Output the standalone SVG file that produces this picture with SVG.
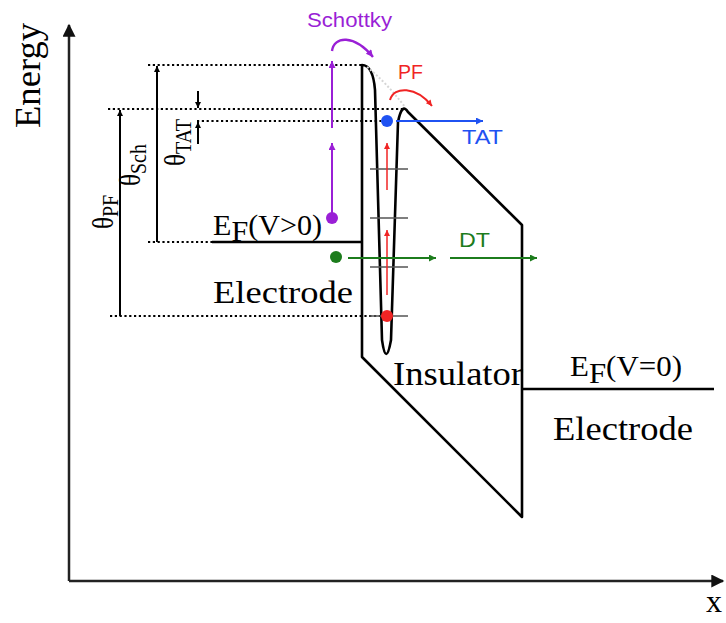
<svg xmlns="http://www.w3.org/2000/svg" width="726" height="623" viewBox="0 0 726 623">
<style>
.band{fill:none;stroke:#000;stroke-width:2.6;stroke-linejoin:round}
.axis{fill:none;stroke:#222;stroke-width:2.5}
.dot{fill:none;stroke:#000;stroke-width:2;stroke-dasharray:2.2 2.6}
.dim{fill:none;stroke:#000;stroke-width:2}
.trap{fill:none;stroke:#555;stroke-width:1.4}
.serif{font-family:"Liberation Serif","Times New Roman",serif;fill:#000}
.sans{font-family:"Liberation Sans",Arial,sans-serif}
</style>
<defs>
<marker id="axh" viewBox="0 0 10 10" refX="9" refY="5" markerUnits="userSpaceOnUse" markerWidth="16" markerHeight="13" orient="auto"><path d="M0,0 L10,5 L0,10 z" fill="#111"/></marker>
<marker id="bh" viewBox="0 0 10 10" refX="10" refY="5" markerUnits="userSpaceOnUse" markerWidth="10" markerHeight="6" orient="auto"><path d="M0,0 L10,5 L0,10 z" fill="#000"/></marker>
<marker id="ph" viewBox="0 0 10 10" refX="10" refY="5" markerUnits="userSpaceOnUse" markerWidth="10" markerHeight="7" orient="auto"><path d="M0,0 L10,5 L0,10 z" fill="#9a1fd6"/></marker>
<marker id="rh" viewBox="0 0 10 10" refX="10" refY="5" markerUnits="userSpaceOnUse" markerWidth="9" markerHeight="6" orient="auto"><path d="M0,0 L10,5 L0,10 z" fill="#f02424"/></marker>
<marker id="blh" viewBox="0 0 10 10" refX="10" refY="5" markerUnits="userSpaceOnUse" markerWidth="10" markerHeight="7" orient="auto"><path d="M0,0 L10,5 L0,10 z" fill="#1f52f2"/></marker>
<marker id="gh" viewBox="0 0 10 10" refX="10" refY="5" markerUnits="userSpaceOnUse" markerWidth="10" markerHeight="7" orient="auto"><path d="M0,0 L10,5 L0,10 z" fill="#1c7c1c"/></marker>
</defs>

<g id="axes">
<path class="axis" d="M69,581 L69,25" marker-end="url(#axh)"/>
<path class="axis" d="M69,581 L723,581" marker-end="url(#axh)"/>
<text class="serif" font-size="36" textLength="105" lengthAdjust="spacingAndGlyphs" transform="translate(40,128) rotate(-90)">Energy</text>
<text class="serif" x="706" y="612" font-size="32">x</text>
</g>

<g id="band">
<path class="band" d="M362,357 L362,65 Q373,65 375,90 L382,340 Q386,368 391,340 L398,122 Q402,102 408,112 L522,225 L522,517 Z"/>
<path d="M367,67 Q386,82 405,107" fill="none" stroke="#d6d6d6" stroke-width="2" stroke-dasharray="2 2"/>
<path class="band" d="M212,242 L362,242"/>
<path class="band" d="M522,389 L714,389"/>
</g>

<g id="guides">
<path class="dot" d="M148,65 L362,65"/>
<path class="dot" d="M108,109 L404,109"/>
<path class="dot" d="M197,121 L381,121"/>
<path class="dot" d="M148,242 L212,242"/>
<path class="dot" d="M110,316 L382,316"/>
</g>

<g id="traps">
<path class="trap" d="M370,169 L408,169 M370,218 L408,218 M370,267 L408,267 M370,316 L408,316"/>
</g>

<g id="dimensions">
<path class="dim" d="M120,316 L120,110" marker-end="url(#bh)"/>
<path class="dim" d="M157,242 L157,66" marker-end="url(#bh)"/>
<path class="dim" d="M198,91 L198,108" marker-end="url(#bh)"/>
<path class="dim" d="M198,144 L198,122" marker-end="url(#bh)"/>
<text class="serif" transform="translate(113,229) scale(1.15,1) rotate(-90)"><tspan font-size="25">θ</tspan><tspan font-size="20" dy="4">PF</tspan></text>
<text class="serif" transform="translate(140,186) scale(1.15,1) rotate(-90)"><tspan font-size="25">θ</tspan><tspan font-size="20" dy="5">Sch</tspan></text>
<text class="serif" transform="translate(185,166) scale(1.15,1) rotate(-90)"><tspan font-size="25">θ</tspan><tspan font-size="20" dy="5">TAT</tspan></text>
</g>

<g id="schottky">
<path d="M332,217 L332,143" stroke="#9a1fd6" stroke-width="2" fill="none" marker-end="url(#ph)"/>
<path d="M332,128 L332,61" stroke="#9a1fd6" stroke-width="2" fill="none" marker-end="url(#ph)"/>
<path d="M332,51 C334,36 354,34 373,57" stroke="#9a1fd6" stroke-width="2.4" fill="none" marker-end="url(#ph)"/>
<circle cx="332" cy="218" r="6" fill="#9a1fd6"/>
<text class="sans" x="307" y="27" font-size="20" fill="#9a1fd6" textLength="85" lengthAdjust="spacingAndGlyphs">Schottky</text>
</g>

<g id="pf">
<path d="M387,190 L387,143" stroke="#f02424" stroke-width="1.5" fill="none" marker-end="url(#rh)"/>
<path d="M387,295 L387,230" stroke="#f02424" stroke-width="1.5" fill="none" marker-end="url(#rh)"/>
<path d="M390,100 C394,86 416,86 432,106" stroke="#f02424" stroke-width="2" fill="none" marker-end="url(#rh)"/>
<circle cx="387" cy="316" r="6" fill="#f02424"/>
<text class="sans" x="398" y="79" font-size="20" fill="#f02424" textLength="25" lengthAdjust="spacingAndGlyphs">PF</text>
</g>

<g id="tat">
<path d="M396,121 L483,121" stroke="#1f52f2" stroke-width="2" fill="none" marker-end="url(#blh)"/>
<circle cx="387" cy="121" r="6" fill="#1f52f2"/>
<text class="sans" x="462" y="144" font-size="21" fill="#1f52f2" textLength="41" lengthAdjust="spacingAndGlyphs">TAT</text>
</g>

<g id="dt">
<path d="M348,258 L436,258" stroke="#1c7c1c" stroke-width="2" fill="none" marker-end="url(#gh)"/>
<path d="M450,258 L537,258" stroke="#1c7c1c" stroke-width="2" fill="none" marker-end="url(#gh)"/>
<circle cx="336" cy="257" r="6" fill="#1c7c1c"/>
<text class="sans" x="459" y="247" font-size="21" fill="#1c7c1c" textLength="31" lengthAdjust="spacingAndGlyphs">DT</text>
</g>

<g id="labels">
<text class="serif" x="213" y="235" font-size="29" textLength="109" lengthAdjust="spacingAndGlyphs">E<tspan dy="6">F</tspan><tspan dy="-6">(V&gt;0)</tspan></text>
<text class="serif" x="213" y="303" font-size="32" textLength="140" lengthAdjust="spacingAndGlyphs">Electrode</text>
<text class="serif" x="393" y="385" font-size="33" textLength="130" lengthAdjust="spacingAndGlyphs">Insulator</text>
<text class="serif" x="570" y="376" font-size="29" textLength="112" lengthAdjust="spacingAndGlyphs">E<tspan dy="7">F</tspan><tspan dy="-7">(V=0)</tspan></text>
<text class="serif" x="553" y="440" font-size="33" textLength="140" lengthAdjust="spacingAndGlyphs">Electrode</text>
</g>
</svg>
